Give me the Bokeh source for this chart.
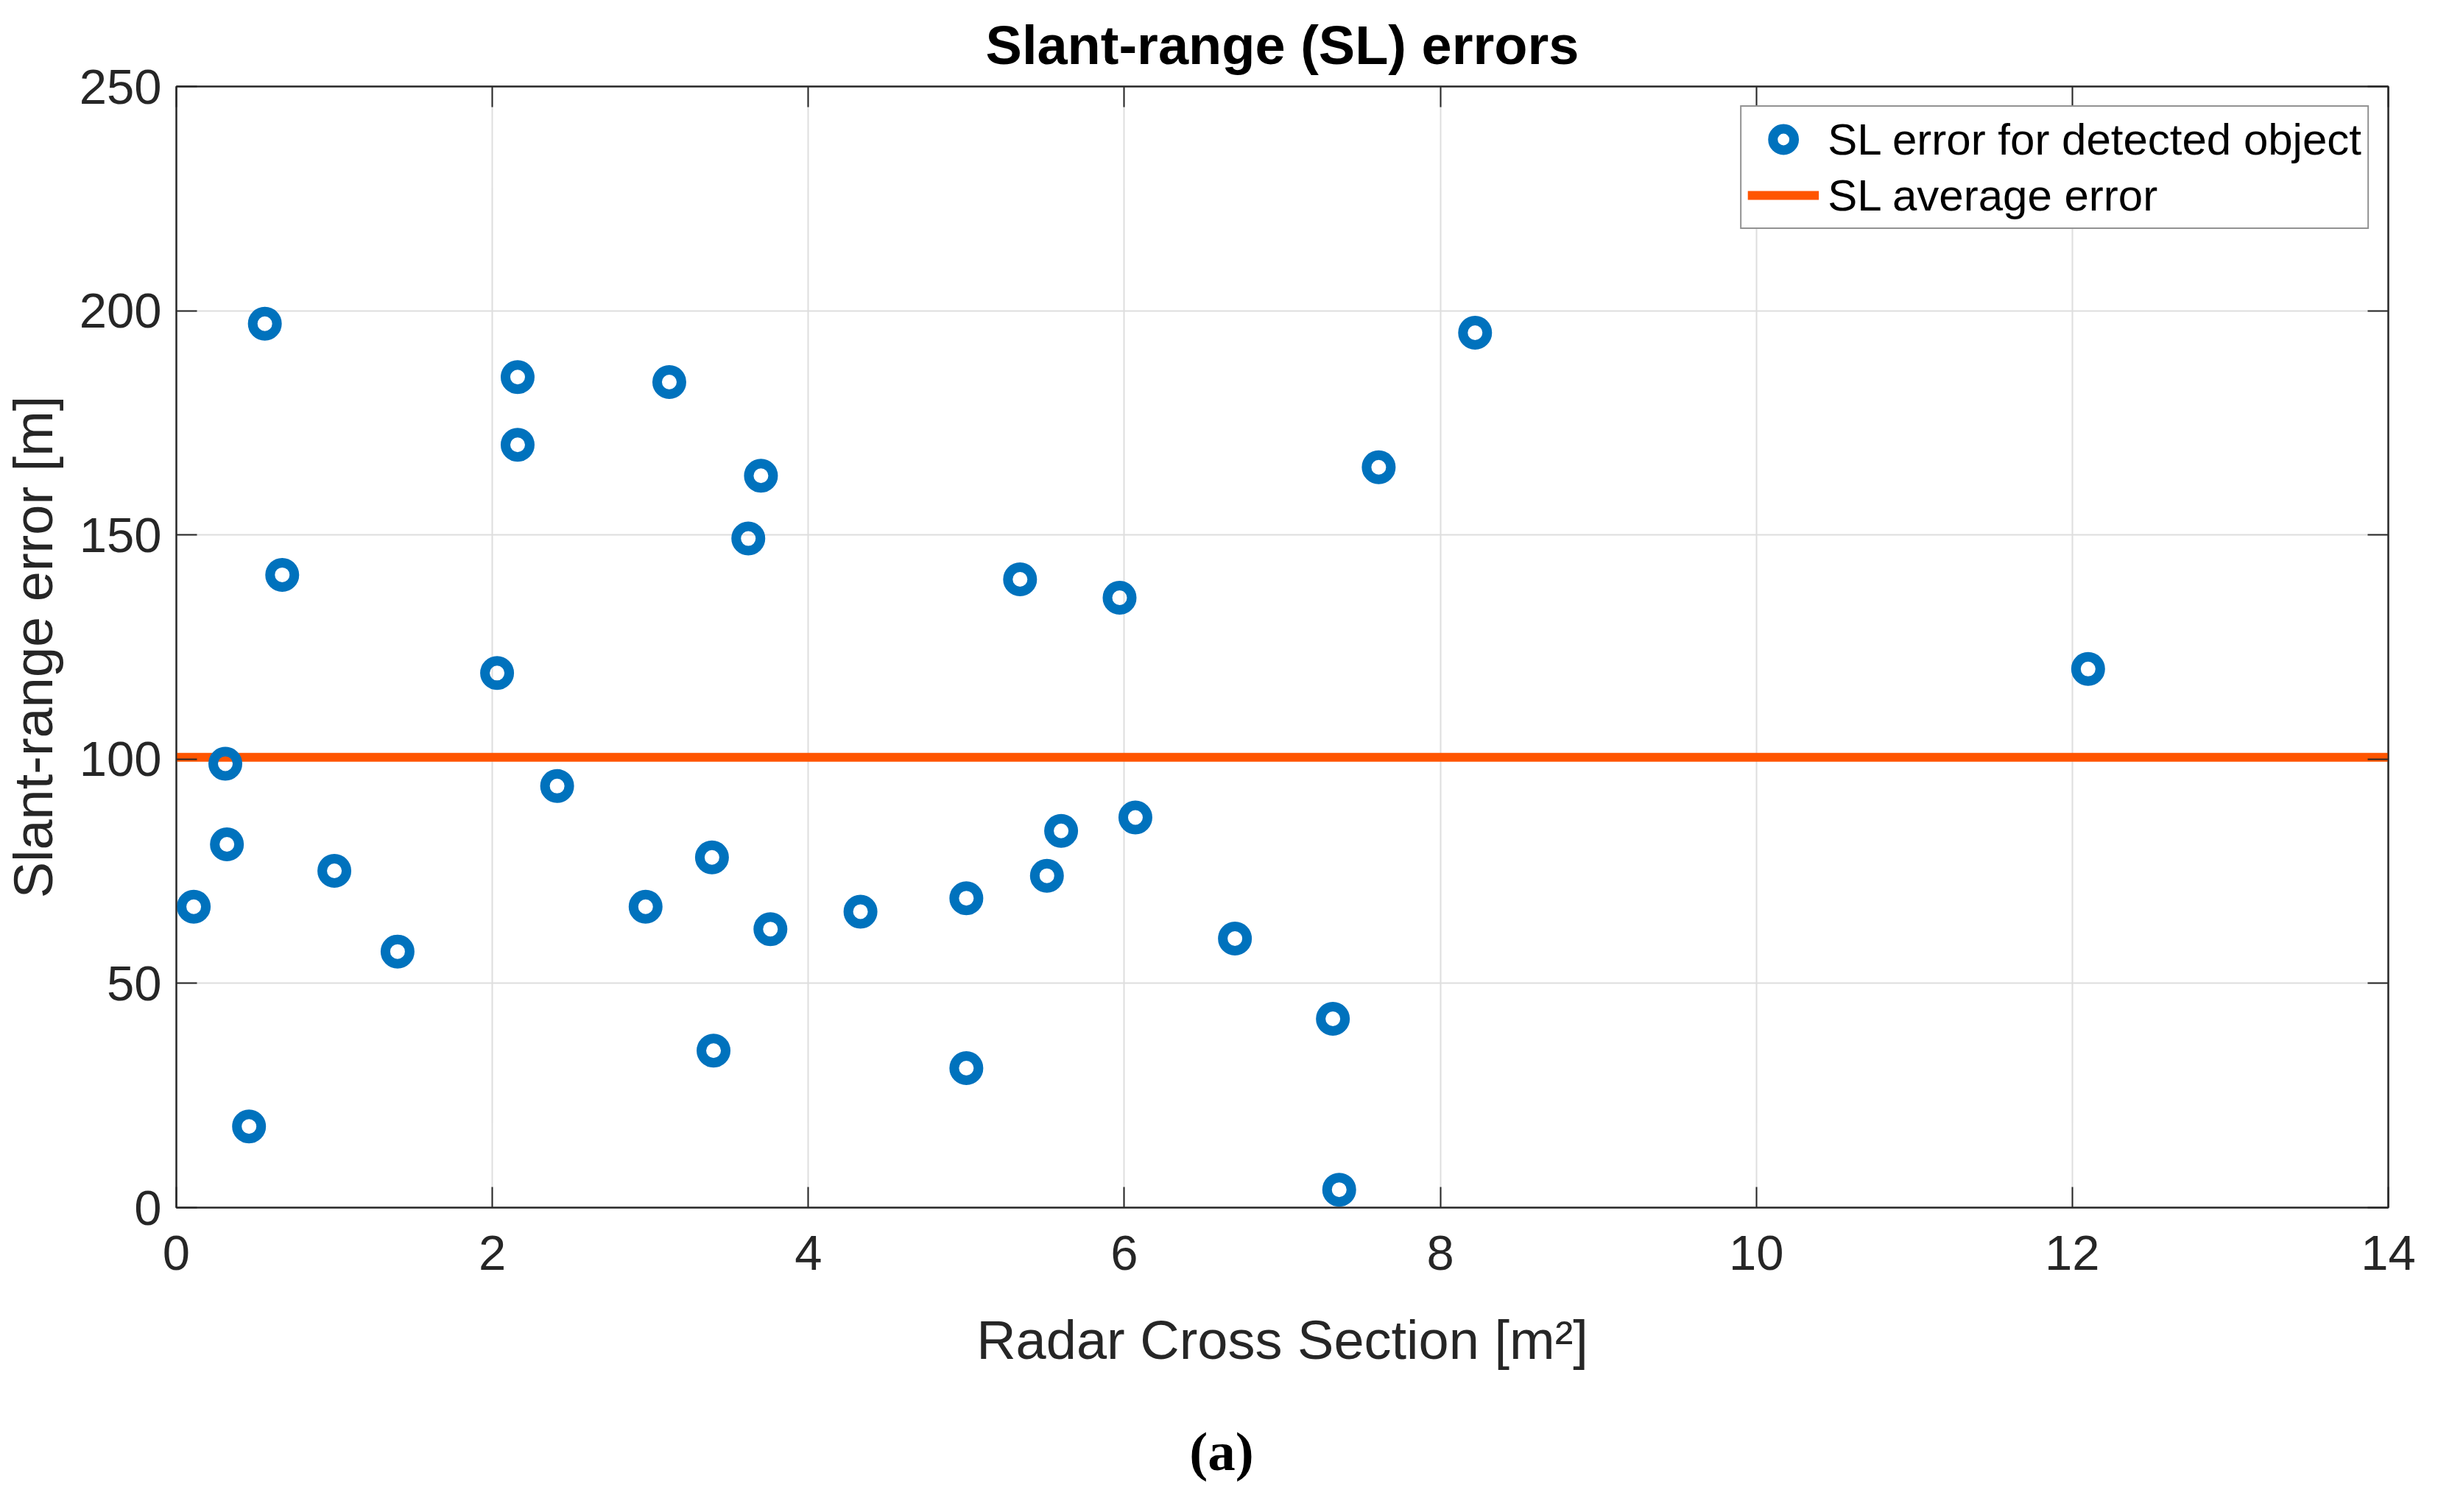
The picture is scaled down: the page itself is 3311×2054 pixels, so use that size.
from bokeh.plotting import figure
from bokeh.models import LinearAxis, FixedTicker, Legend, LegendItem
from bokeh.layouts import column
from bokeh.core.properties import value
from bokeh.embed import file_html
from bokeh.resources import INLINE

# ---- data ----
rcs = [0.56, 2.16, 3.12, 2.16, 3.70, 3.62, 0.67,
       8.22, 7.61, 5.34, 5.97,
       2.03, 0.31, 2.41, 0.32, 3.39, 1.00, 0.11, 2.97, 3.76, 1.40, 3.40, 0.46,
       4.33, 5.00, 5.51, 5.60, 6.07, 6.70, 7.32, 5.00, 7.36,
       12.10]
sl_error = [197.1, 185.2, 184.1, 170.1, 163.2, 149.2, 141.1,
            195.1, 165.1, 140.1, 136.0,
            119.2, 99.0, 94.0, 81.0, 78.1, 75.1, 67.1, 67.1, 62.1, 57.1, 35.0, 18.1,
            66.0, 69.0, 74.0, 84.0, 87.0, 60.0, 42.1, 31.1, 4.0,
            120.1]
avg_error = 100.4
avg_x = [0, 14]
x_ticks = [0, 2, 4, 6, 8, 10, 12, 14]
y_ticks = [0, 50, 100, 150, 200, 250]
caption = "(a)"

FONT = "Liberation Sans"
AX = "#262626"

p = figure(width=3295, height=1900, output_backend="svg", toolbar_location=None,
           x_range=(0, 14), y_range=(0, 250),
           min_border_left=234, min_border_right=52, min_border_top=117, min_border_bottom=260)

p.title.text = "Slant-range (SL) errors"
p.title.align = "center"
p.title.text_font = FONT
p.title.text_font_size = "74px"
p.title.text_font_style = "bold"
p.title.text_color = "#000000"
p.title.standoff = 30

p.outline_line_color = AX
p.outline_line_width = 2

for ax in (p.xaxis[0], p.yaxis[0]):
    ax.axis_line_color = AX
    ax.axis_line_width = 2
    ax.major_tick_in = 28
    ax.major_tick_out = 0
    ax.major_tick_line_color = AX
    ax.major_tick_line_width = 2
    ax.minor_tick_line_color = None
    ax.major_label_text_font = FONT
    ax.major_label_text_font_size = "67px"
    ax.major_label_text_color = AX
    ax.axis_label_text_font = FONT
    ax.axis_label_text_font_size = "74px"
    ax.axis_label_text_font_style = "normal"
    ax.axis_label_text_color = AX

p.xaxis.ticker = FixedTicker(ticks=x_ticks)
p.yaxis.ticker = FixedTicker(ticks=y_ticks)
p.xaxis.axis_label = "Radar Cross Section [m²]"
p.yaxis.axis_label = "Slant-range error [m]"
p.xaxis.major_label_standoff = 38
p.yaxis.major_label_standoff = 20
p.xaxis.axis_label_standoff = 51
p.yaxis.axis_label_standoff = 18

for loc, tk in (("above", x_ticks), ("right", y_ticks)):
    a = LinearAxis(ticker=FixedTicker(ticks=tk), major_tick_in=28, major_tick_out=0,
                   major_tick_line_color=AX, major_tick_line_width=2,
                   minor_tick_line_color=None, axis_line_color=AX, axis_line_width=2,
                   major_label_text_font_size="1px", major_label_text_alpha=0,
                   major_label_standoff=0)
    p.add_layout(a, loc)

p.xgrid.ticker = FixedTicker(ticks=x_ticks)
p.ygrid.ticker = FixedTicker(ticks=y_ticks)
p.grid.grid_line_color = "#dedede"
p.grid.grid_line_width = 2

avg_r = p.line(avg_x, [avg_error, avg_error], line_color="#FF5500", line_width=12)
pts = p.scatter(rcs, sl_error, marker="circle", size=33, line_color="#0072BD",
                line_width=13, fill_color=None)

legend = Legend(items=[LegendItem(label="SL error for detected object", renderers=[pts]),
                       LegendItem(label="SL average error", renderers=[avg_r])],
                location="top_right", margin=26, padding=8, spacing=4,
                glyph_width=97, glyph_height=72, label_height=72, label_standoff=12,
                label_text_font=FONT, label_text_font_size="60px", label_text_color="#000000",
                border_line_color=AX, border_line_width=2, background_fill_color="white",
                background_fill_alpha=1.0)
p.add_layout(legend, "center")

# caption strip below the chart: "(a)" centred on the page
c = figure(width=3295, height=138, output_backend="svg", toolbar_location=None,
           x_range=(0, 3295), y_range=(0, 138), min_border=0,
           x_axis_type=None, y_axis_type=None)
c.grid.visible = False
c.outline_line_color = None
c.text(x=[1557], y=[67], text=[caption], text_font=value("Liberation Serif"),
       text_font_style="bold", text_font_size="75px", text_color="#000000",
       text_align="center", text_baseline="middle")

layout = column(p, c, spacing=0)
open("out.html", "w").write(file_html(layout, INLINE))
